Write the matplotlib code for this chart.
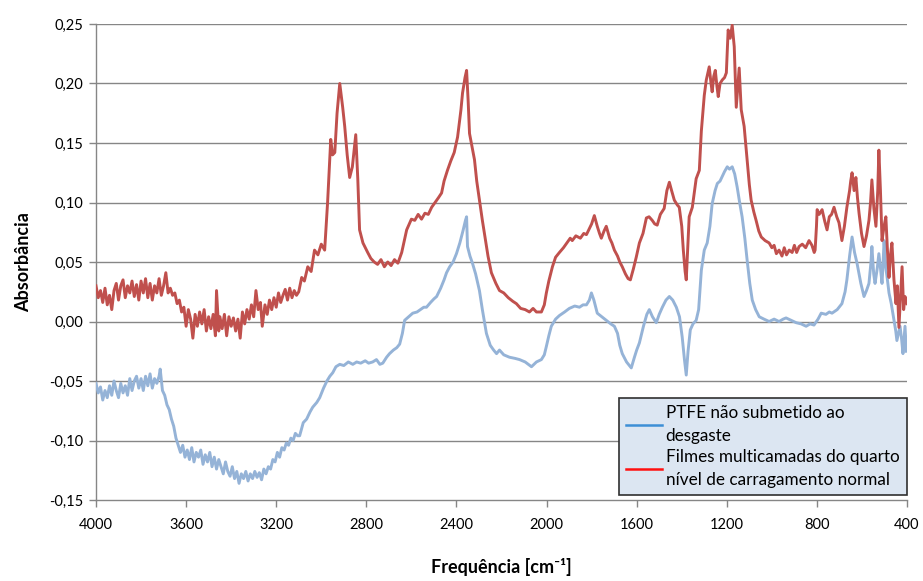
import matplotlib
matplotlib.use("Agg")
import matplotlib.pyplot as plt
from matplotlib.lines import Line2D
from matplotlib.ticker import FuncFormatter

plt.rcParams['font.family'] = ['Lato', 'DejaVu Sans']

# filmes multicamadas (4o nivel de carregamento)
wn_filme = [4000, 3990, 3980, 3970, 3960, 3950, 3940, 3930, 3920, 3910, 3900, 3890, 3880, 3870,
            3860, 3850, 3840, 3830, 3820, 3810, 3800, 3790, 3780, 3770, 3760, 3750, 3740, 3730,
            3720, 3710, 3700, 3690, 3680, 3670, 3660, 3650, 3640, 3630, 3620, 3610, 3600, 3590,
            3580, 3570, 3560, 3550, 3540, 3530, 3520, 3510, 3500, 3490, 3480, 3470, 3465, 3455,
            3450, 3440, 3430, 3420, 3410, 3400, 3390, 3380, 3370, 3360, 3350, 3340, 3330, 3320,
            3310, 3300, 3290, 3280, 3270, 3262, 3250, 3240, 3230, 3220, 3210, 3200, 3190, 3180,
            3170, 3160, 3150, 3140, 3130, 3120, 3110, 3100, 3087, 3075, 3060, 3045, 3030, 3015,
            3000, 2985, 2972, 2958, 2950, 2940, 2930, 2918, 2905, 2896, 2885, 2874, 2862, 2847,
            2838, 2830, 2815, 2794, 2780, 2765, 2750, 2735, 2720, 2705, 2690, 2675, 2660, 2643,
            2621, 2600, 2585, 2570, 2555, 2540, 2525, 2510, 2495, 2480, 2466, 2455, 2440, 2425,
            2410, 2395, 2380, 2373, 2362, 2355, 2348, 2342, 2330, 2320, 2310, 2298, 2285, 2276,
            2260, 2245, 2225, 2209, 2190, 2170, 2150, 2134, 2115, 2095, 2076, 2060, 2045, 2023,
            2010, 2001, 1990, 1974, 1960, 1943, 1925, 1910, 1895, 1886, 1870, 1850, 1835, 1823,
            1810, 1800, 1788, 1775, 1765, 1757, 1745, 1735, 1720, 1710, 1699, 1685, 1675, 1664,
            1650, 1638, 1628, 1615, 1602, 1588, 1572, 1557, 1545, 1531, 1520, 1509, 1495, 1478,
            1466, 1455, 1445, 1433, 1420, 1411, 1400, 1393, 1385, 1380, 1374, 1367, 1353, 1336,
            1322, 1313, 1300, 1291, 1278, 1270, 1265, 1258, 1251, 1244, 1238, 1230, 1220, 1210,
            1202, 1194, 1185, 1176, 1167, 1158, 1150, 1145, 1136, 1123, 1110, 1100, 1092, 1080,
            1070, 1058, 1047, 1030, 1012, 1000, 990, 980, 968, 955, 945, 935, 923, 910,
            900, 890, 879, 865, 850, 835, 822, 812, 808, 802, 799, 790, 777, 765,
            755, 745, 735, 724, 712, 702, 695, 689, 678, 667, 655, 650, 644, 635,
            627, 620, 613, 602, 591, 580, 569, 562, 556, 547, 538, 530, 525, 518,
            511, 502, 494, 487, 480, 474, 467, 458, 449, 443, 436, 429, 422, 415,
            409, 400]
abs_filme = [0.030, 0.020, 0.026, 0.016, 0.028, 0.014, 0.022, 0.010, 0.026, 0.032, 0.018, 0.030, 0.035, 0.020,
             0.030, 0.024, 0.034, 0.021, 0.031, 0.018, 0.034, 0.024, 0.036, 0.020, 0.032, 0.018, 0.030, 0.024,
             0.036, 0.022, 0.030, 0.041, 0.024, 0.028, 0.022, 0.024, 0.015, 0.018, 0.008, 0.012, -0.004, 0.010,
             0.002, -0.014, 0.006, -0.004, 0.008, -0.002, 0.010, -0.008, 0.004, -0.006, 0.006, -0.012, 0.026, -0.008,
             0.004, -0.006, 0.006, -0.012, 0.004, -0.004, 0.003, -0.008, 0.002, -0.014, 0.008, -0.002, 0.010, 0.002,
             0.014, 0.004, 0.026, 0.010, 0.016, -0.004, 0.014, 0.006, 0.018, 0.010, 0.020, 0.012, 0.024, 0.016,
             0.022, 0.027, 0.018, 0.028, 0.020, 0.026, 0.022, 0.025, 0.037, 0.034, 0.046, 0.042, 0.060, 0.056,
             0.065, 0.060, 0.100, 0.153, 0.140, 0.142, 0.175, 0.200, 0.180, 0.164, 0.140, 0.121, 0.130, 0.157,
             0.120, 0.077, 0.066, 0.058, 0.053, 0.050, 0.048, 0.052, 0.046, 0.050, 0.047, 0.052, 0.049, 0.058,
             0.077, 0.086, 0.085, 0.090, 0.086, 0.091, 0.090, 0.096, 0.100, 0.104, 0.108, 0.118, 0.127, 0.135,
             0.142, 0.155, 0.178, 0.192, 0.205, 0.211, 0.185, 0.158, 0.146, 0.136, 0.118, 0.102, 0.085, 0.074,
             0.055, 0.041, 0.032, 0.026, 0.024, 0.020, 0.017, 0.015, 0.011, 0.010, 0.008, 0.011, 0.008, 0.008,
             0.014, 0.024, 0.034, 0.046, 0.054, 0.058, 0.062, 0.066, 0.070, 0.068, 0.072, 0.070, 0.074, 0.073,
             0.078, 0.082, 0.089, 0.080, 0.074, 0.070, 0.076, 0.080, 0.070, 0.066, 0.060, 0.055, 0.050, 0.046,
             0.040, 0.036, 0.035, 0.044, 0.054, 0.066, 0.074, 0.087, 0.088, 0.085, 0.082, 0.081, 0.090, 0.095,
             0.110, 0.117, 0.110, 0.102, 0.098, 0.096, 0.080, 0.060, 0.042, 0.035, 0.060, 0.088, 0.096, 0.120,
             0.127, 0.160, 0.190, 0.203, 0.214, 0.200, 0.193, 0.206, 0.211, 0.198, 0.189, 0.200, 0.203, 0.205,
             0.209, 0.245, 0.238, 0.249, 0.231, 0.180, 0.200, 0.213, 0.178, 0.164, 0.136, 0.115, 0.102, 0.092,
             0.085, 0.076, 0.071, 0.068, 0.066, 0.062, 0.064, 0.057, 0.060, 0.055, 0.062, 0.056, 0.060, 0.058,
             0.064, 0.058, 0.063, 0.065, 0.062, 0.068, 0.064, 0.058, 0.060, 0.080, 0.094, 0.090, 0.094, 0.084,
             0.077, 0.088, 0.090, 0.096, 0.088, 0.083, 0.075, 0.068, 0.080, 0.096, 0.110, 0.118, 0.125, 0.110,
             0.121, 0.104, 0.091, 0.074, 0.063, 0.072, 0.085, 0.100, 0.119, 0.095, 0.080, 0.110, 0.144, 0.110,
             0.068, 0.080, 0.088, 0.060, 0.037, 0.055, 0.066, 0.035, 0.015, 0.030, -0.005, 0.020, 0.046, 0.010,
             0.021, 0.015]

# PTFE sem desgaste
wn_ptfe = [4000, 3990, 3980, 3970, 3960, 3950, 3940, 3930, 3920, 3910, 3900, 3890, 3880, 3870,
           3860, 3850, 3840, 3830, 3820, 3810, 3800, 3790, 3780, 3770, 3760, 3750, 3740, 3730,
           3720, 3715, 3705, 3695, 3685, 3675, 3665, 3655, 3645, 3635, 3625, 3615, 3605, 3595,
           3585, 3575, 3565, 3555, 3545, 3535, 3525, 3515, 3505, 3495, 3485, 3475, 3465, 3455,
           3445, 3435, 3425, 3415, 3405, 3395, 3385, 3375, 3365, 3355, 3345, 3335, 3325, 3315,
           3305, 3295, 3285, 3275, 3265, 3255, 3245, 3235, 3225, 3215, 3205, 3195, 3185, 3175,
           3165, 3155, 3145, 3135, 3125, 3115, 3105, 3096, 3080, 3065, 3050, 3038, 3020, 3007,
           2990, 2975, 2962, 2949, 2935, 2918, 2900, 2880, 2860, 2843, 2825, 2805, 2790, 2772,
           2755, 2740, 2727, 2710, 2697, 2680, 2665, 2652, 2640, 2630, 2612, 2594, 2575, 2560,
           2545, 2533, 2515, 2500, 2488, 2470, 2455, 2444, 2430, 2415, 2400, 2385, 2370, 2360,
           2355, 2351, 2340, 2329, 2315, 2298, 2285, 2276, 2267, 2250, 2235, 2222, 2209, 2190,
           2165, 2140, 2120, 2095, 2067, 2045, 2023, 2010, 2001, 1990, 1979, 1960, 1943, 1920,
           1899, 1875, 1854, 1838, 1823, 1810, 1801, 1790, 1775, 1755, 1735, 1715, 1699, 1685,
           1675, 1664, 1645, 1624, 1610, 1600, 1588, 1570, 1555, 1544, 1530, 1513, 1500, 1486,
           1470, 1455, 1440, 1424, 1410, 1398, 1388, 1380, 1372, 1362, 1350, 1336, 1325, 1313,
           1300, 1287, 1275, 1265, 1252, 1242, 1230, 1220, 1210, 1198, 1188, 1176, 1165, 1154,
           1143, 1132, 1120, 1110, 1098, 1087, 1072, 1056, 1035, 1012, 990, 968, 950, 937,
           915, 892, 870, 848, 830, 813, 795, 781, 760, 745, 733, 710, 689, 675,
           667, 655, 644, 633, 622, 605, 591, 580, 569, 560, 556, 548, 542, 532,
           525, 518, 511, 506, 502, 494, 487, 480, 470, 458, 450, 445, 438, 431,
           424, 418, 412, 409, 403]
abs_ptfe = [-0.052, -0.060, -0.055, -0.066, -0.058, -0.064, -0.054, -0.062, -0.050, -0.058, -0.064, -0.052, -0.060, -0.054,
            -0.062, -0.048, -0.058, -0.050, -0.046, -0.056, -0.048, -0.058, -0.046, -0.054, -0.044, -0.056, -0.048, -0.052,
            -0.046, -0.040, -0.058, -0.062, -0.070, -0.074, -0.082, -0.088, -0.098, -0.104, -0.110, -0.104, -0.114, -0.108,
            -0.116, -0.106, -0.118, -0.110, -0.114, -0.108, -0.120, -0.112, -0.118, -0.110, -0.122, -0.114, -0.124, -0.116,
            -0.122, -0.128, -0.118, -0.126, -0.130, -0.122, -0.132, -0.126, -0.136, -0.128, -0.132, -0.126, -0.134, -0.128,
            -0.132, -0.126, -0.131, -0.127, -0.133, -0.124, -0.128, -0.122, -0.124, -0.116, -0.118, -0.110, -0.114, -0.106,
            -0.108, -0.102, -0.104, -0.098, -0.100, -0.094, -0.096, -0.096, -0.085, -0.082, -0.076, -0.072, -0.068, -0.064,
            -0.056, -0.050, -0.046, -0.043, -0.038, -0.036, -0.037, -0.034, -0.036, -0.034, -0.035, -0.033, -0.035, -0.034,
            -0.032, -0.036, -0.035, -0.030, -0.027, -0.024, -0.022, -0.019, -0.010, 0.001, 0.004, 0.007, 0.008, 0.010,
            0.012, 0.012, 0.016, 0.019, 0.021, 0.028, 0.035, 0.041, 0.046, 0.050, 0.057, 0.066, 0.077, 0.085,
            0.088, 0.063, 0.055, 0.049, 0.040, 0.026, 0.010, 0.000, -0.010, -0.020, -0.024, -0.027, -0.024, -0.028,
            -0.030, -0.031, -0.032, -0.034, -0.038, -0.034, -0.032, -0.028, -0.021, -0.012, -0.004, 0.002, 0.005, 0.008,
            0.011, 0.013, 0.012, 0.014, 0.014, 0.018, 0.024, 0.018, 0.007, 0.004, 0.001, -0.002, -0.004, -0.010,
            -0.020, -0.027, -0.034, -0.039, -0.030, -0.024, -0.018, -0.004, 0.006, 0.010, 0.004, -0.001, 0.006, 0.012,
            0.018, 0.021, 0.018, 0.012, 0.004, -0.013, -0.032, -0.045, -0.025, -0.007, -0.002, 0.001, 0.010, 0.043,
            0.060, 0.066, 0.080, 0.099, 0.110, 0.116, 0.118, 0.122, 0.126, 0.130, 0.128, 0.130, 0.124, 0.113,
            0.100, 0.088, 0.070, 0.052, 0.032, 0.018, 0.010, 0.004, 0.002, 0.000, 0.002, 0.000, 0.002, 0.003,
            0.001, -0.001, -0.002, -0.004, -0.002, -0.003, 0.002, 0.007, 0.006, 0.008, 0.007, 0.010, 0.015, 0.025,
            0.035, 0.055, 0.071, 0.058, 0.049, 0.032, 0.021, 0.026, 0.032, 0.050, 0.063, 0.040, 0.032, 0.045,
            0.057, 0.045, 0.032, 0.050, 0.068, 0.045, 0.035, 0.024, 0.015, 0.001, -0.008, -0.016, -0.010, -0.004,
            -0.015, -0.027, -0.012, -0.004, -0.025]

y_ticks = [-0.15, -0.10, -0.05, 0.00, 0.05, 0.10, 0.15, 0.20, 0.25]
x_ticks = [4000, 3600, 3200, 2800, 2400, 2000, 1600, 1200, 800, 400]

label_ptfe = 'PTFE não submetido ao\ndesgaste'
label_filme = 'Filmes multicamadas do quarto\nnível de carragamento normal'

gray = '#868686'

fig = plt.figure(figsize=(9.23, 5.81), dpi=100)
ax = fig.add_axes([0.104, 0.1394, 0.8787, 0.8193])

for y in y_ticks[1:]:
    ax.axhline(y, color=gray, lw=1.0, zorder=1)

ax.plot(wn_ptfe, abs_ptfe, color='#95b3d7', lw=2.1, zorder=3)
ax.plot(wn_filme, abs_filme, color='#c0504d', lw=2.1, zorder=4)

ax.set_xlim(4000, 400)
ax.set_ylim(-0.15, 0.25)
ax.set_xticks(x_ticks)
ax.set_yticks(y_ticks)
ax.yaxis.set_major_formatter(FuncFormatter(lambda v, p: ('%.2f' % v).replace('.', ',')))

for s in ['top', 'right']:
    ax.spines[s].set_visible(False)
for s in ['left', 'bottom']:
    ax.spines[s].set_color(gray)
    ax.spines[s].set_linewidth(1.0)
ax.tick_params(axis='both', colors=gray, labelcolor='black', labelsize=10.5, length=5, width=1)
ax.tick_params(axis='x', pad=8)
ax.tick_params(axis='y', pad=4)

ax.set_xlabel('Frequência [cm⁻¹]', fontsize=13, fontweight='bold', labelpad=19)
ax.set_ylabel('Absorbância', fontsize=13, fontweight='bold', labelpad=12)

handles = [Line2D([], [], color='#3d8fd6', lw=1.8),
           Line2D([], [], color='#ff1010', lw=1.8)]
leg = ax.legend(handles, [label_ptfe, label_filme], loc='lower right',
                bbox_to_anchor=(1.0, 0.010), prop={'size': 12.3}, frameon=True,
                fancybox=False, facecolor='#dce6f2', edgecolor='#303030',
                framealpha=1, handlelength=2.1, handletextpad=0.2,
                borderpad=0.45, labelspacing=0.3, borderaxespad=0)
for t in leg.get_texts():
    t.set_linespacing(1.5)
leg.get_frame().set_linewidth(1.2)
leg.set_zorder(10)

fig.savefig('out.png', dpi=100)
